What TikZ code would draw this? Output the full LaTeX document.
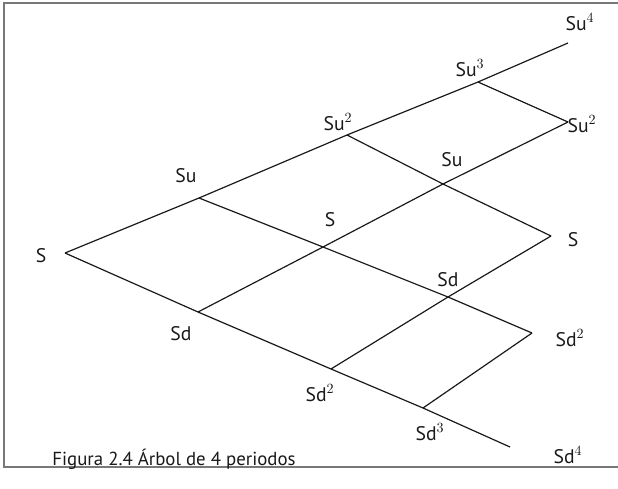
\documentclass[tikz,border=0pt]{standalone}
\usepackage{fontspec}
\setmainfont{PT Sans}
\usepackage{xcolor}
\usepackage{tikz}
\usetikzlibrary{positioning, calc}
\definecolor{ink}{RGB}{25,25,25}
\definecolor{rule}{RGB}{120,120,120}

\begin{document}
\begin{tikzpicture}[
  font=\fontsize{14}{16}\selectfont,
  branch/.style={ink, line width=0.85pt, line join=round},
  lab/.style={ink, inner sep=1pt},
  figcap/.style={ink, inner sep=1pt, font=\fontsize{13.4}{15}\selectfont}]
  \useasboundingbox (0,0) rectangle (15.45,12.2);
  \draw[rule, line width=1.1pt] (15.45,12.125) -- (0.1,12.125) -- (0.1,0.525) -- (15.45,0.525);
  \coordinate (s0)   at (1.625,5.875);
  \coordinate (u1)   at (4.975,7.25);
  \coordinate (d1)   at (4.95,4.40);
  \coordinate (uu2)  at (8.675,8.825);
  \coordinate (ud2)  at (8.075,6.025);
  \coordinate (dd2)  at (8.275,2.975);
  \coordinate (uuu3) at (11.95,10.15);
  \coordinate (uud3) at (11.075,7.60);
  \coordinate (udd3) at (11.2,4.775);
  \coordinate (ddd3) at (10.575,2.0);
  \coordinate (u4)   at (14.2,11.125);
  \coordinate (uu4)  at (14.2,9.15);
  \coordinate (m4)   at (13.775,6.30);
  \coordinate (dd4)  at (13.3,3.875);
  \coordinate (d4)   at (12.75,1.025);
  \draw[branch] (s0) -- (u1) -- (uu2) -- (uuu3) -- (u4);
  \draw[branch] (s0) -- (d1) -- (dd2) -- (ddd3) -- (d4);
  \draw[branch] (u1) -- (ud2) -- (udd3) -- (dd4);
  \draw[branch] (uu2) -- (uud3) -- (m4);
  \draw[branch] (uuu3) -- (uu4);
  \draw[branch] (d1) -- (ud2) -- (uud3) -- (uu4);
  \draw[branch] (dd2) -- (udd3) -- (m4);
  \draw[branch] (ddd3) -- (dd4);
  \node[lab] (ls0)   at (1.025,5.80)  {S};
  \node[lab] (lu1)   at (4.65,7.80)   {Su};
  \node[lab] (ld1)   at (4.525,3.85)  {Sd};
  \node[lab] (luu2)  at (8.45,9.15)   {Su$^{2}$};
  \node[lab] (lud2)  at (8.25,6.70)   {S};
  \node[lab] (ldd2)  at (8.0,2.375)   {Sd$^{2}$};
  \node[lab] (luuu3) at (11.75,10.5)  {Su$^{3}$};
  \node[lab] (luud3) at (11.3,8.2)    {Su};
  \node[lab] (ludd3) at (11.2,5.2)    {Sd};
  \node[lab] (lddd3) at (10.75,1.4)   {Sd$^{3}$};
  \node[lab] (lu4)   at (14.5,11.65)  {Su$^{4}$};
  \node[lab] (luu4)  at (14.55,9.1)   {Su$^{2}$};
  \node[lab] (lm4)   at (14.325,6.2)  {S};
  \node[lab] (ldd4)  at (14.25,3.75)  {Sd$^{2}$};
  \node[lab] (ld4)   at (14.2,0.825)  {Sd$^{4}$};
  \node[figcap] (title) at (4.35,0.72) {Figura 2.4 Árbol de 4 periodos};
\end{tikzpicture}
\end{document}
